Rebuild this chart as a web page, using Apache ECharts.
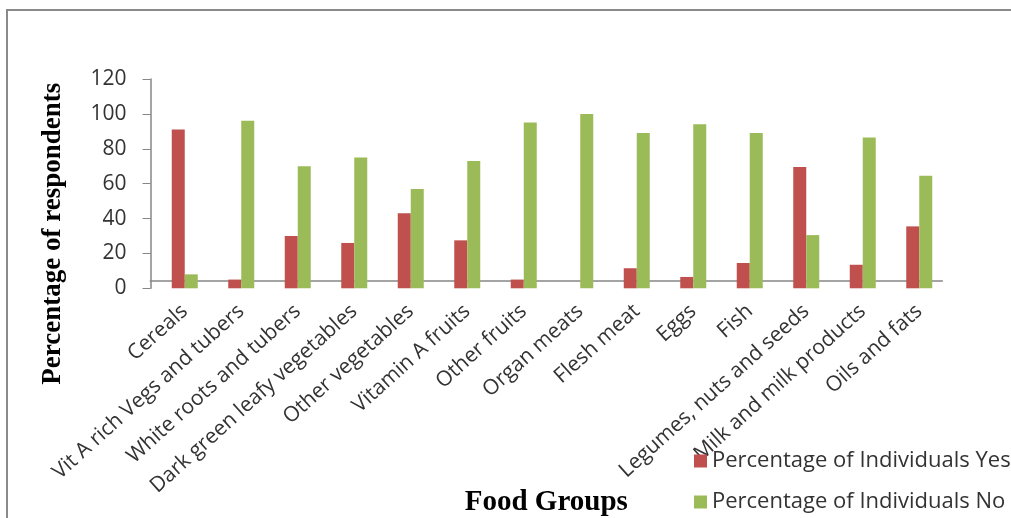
<!DOCTYPE html>
<html>
<head>
<meta charset="utf-8">
<title>Food Groups</title>
<script src="https://cdn.jsdelivr.net/npm/echarts@6/dist/echarts.min.js"></script>
<style>
  html, body { margin: 0; padding: 0; background: #fff; }
  #chart { width: 1011px; height: 518px; }
</style>
</head>
<body>
<div id="chart"></div>
<script>
// Food groups consumed by respondents
const categories = [
  'Cereals', 'Vit A rich Vegs and tubers', 'White roots and tubers',
  'Dark green leafy vegetables', 'Other vegetables', 'Vitamin A fruits',
  'Other fruits', 'Organ meats', 'Flesh meat', 'Eggs', 'Fish',
  'Legumes, nuts and seeds', 'Milk and milk products', 'Oils and fats'
];
const yesValues = [91, 5, 30, 26, 43, 27.5, 5, 0, 11.5, 6.5, 14.5, 69.5, 13.5, 35.5];
const noValues  = [8, 96, 70, 75, 57, 73, 95, 100, 89, 94, 89, 30.5, 86.5, 64.5];
const yTicks = [0, 20, 40, 60, 80, 100, 120];

const seriesNames = ['Percentage of Individuals Yes', 'Percentage of Individuals No'];

const chart = echarts.init(document.getElementById('chart'), null, { renderer: 'canvas' });

const labelFont = 'Open Sans';
const titleFont = '"Liberation Serif", "Times New Roman", serif';
const axisGrey = '#868686';

chart.setOption({
  animation: false,
  backgroundColor: '#ffffff',
  graphic: [{
    type: 'rect',
    shape: { x: 7, y: 10, width: 1100, height: 600 },
    style: { fill: 'none', stroke: '#8a8a8a', lineWidth: 2 },
    silent: true
  }],
  legend: {
    orient: 'vertical',
    left: 689,
    top: 445,
    itemWidth: 13,
    itemHeight: 13,
    itemGap: 19,
    icon: 'rect',
    data: seriesNames,
    textStyle: { fontFamily: labelFont, fontSize: 22, color: '#333' }
  },
  grid: [
    { left: 156.5, right: 63.5, top: 79, bottom: 229.7 },
    { left: 150.3, right: 68.7, top: 79, bottom: 229.7 }
  ],
  xAxis: [
    {
      type: 'category',
      gridIndex: 0,
      data: categories,
      axisLine: { show: false },
      axisTick: { show: false },
      axisLabel: {
        interval: 0,
        rotate: 42,
        margin: 20,
        fontFamily: labelFont,
        fontSize: 21,
        color: '#333'
      }
    },
    {
      type: 'category',
      gridIndex: 1,
      data: categories,
      axisLine: { show: true, lineStyle: { color: axisGrey, width: 1.5 } },
      axisTick: { show: false },
      axisLabel: { show: false },
      name: 'Food Groups',
      nameLocation: 'middle',
      nameGap: 207,
      nameTextStyle: { fontFamily: titleFont, fontWeight: 'bold', fontSize: 29, color: '#000' }
    }
  ],
  yAxis: [
    {
      type: 'value',
      gridIndex: 0,
      min: yTicks[0],
      max: yTicks[yTicks.length - 1],
      interval: yTicks[1] - yTicks[0],
      offset: 6,
      splitLine: { show: false },
      axisLine: { show: true, lineStyle: { color: axisGrey, width: 1.5 } },
      axisTick: { show: true, inside: false, length: 8, lineStyle: { color: axisGrey } },
      axisLabel: { margin: 24, fontFamily: labelFont, fontSize: 21, color: '#333' },
      name: 'Percentage of respondents',
      nameLocation: 'middle',
      nameGap: 84,
      nameTextStyle: {
        fontFamily: titleFont, fontWeight: 'bold', fontSize: 27, color: '#000',
        padding: [0, 100, 0, 0]
      }
    },
    {
      type: 'value',
      gridIndex: 1,
      min: yTicks[0],
      max: yTicks[yTicks.length - 1],
      show: false
    }
  ],
  series: [
    {
      name: seriesNames[0],
      type: 'bar',
      xAxisIndex: 0,
      yAxisIndex: 0,
      data: yesValues,
      barWidth: 13,
      barGap: '0%',
      itemStyle: { color: '#C0504D' }
    },
    {
      name: seriesNames[1],
      type: 'bar',
      xAxisIndex: 0,
      yAxisIndex: 0,
      data: noValues,
      barWidth: 13,
      barGap: '0%',
      itemStyle: { color: '#9BBB59' }
    }
  ]
});
</script>
</body>
</html>
